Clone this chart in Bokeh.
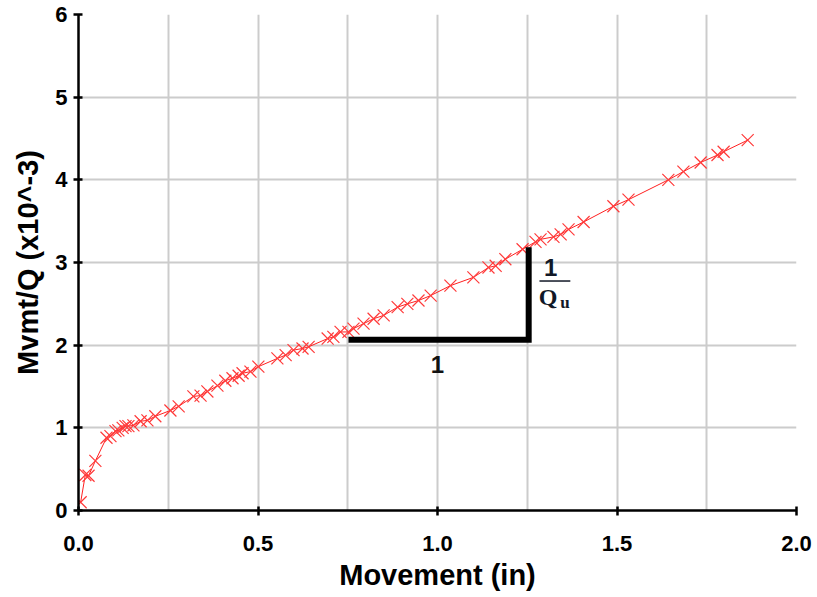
from bokeh.plotting import figure
from bokeh.models import Range1d, FixedTicker, Label
from bokeh.embed import file_html
from bokeh.resources import INLINE

# Data (Movement in inches, Mvmt/Q x10^-3)
movement = [0.006, 0.019, 0.028, 0.047, 0.078, 0.089, 0.103, 0.111, 0.123, 0.131,
            0.139, 0.153, 0.173, 0.192, 0.214, 0.256, 0.279, 0.320, 0.340, 0.359,
            0.387, 0.409, 0.429, 0.446, 0.457, 0.479, 0.501, 0.554, 0.577, 0.599,
            0.624, 0.641, 0.694, 0.710, 0.730, 0.752, 0.766, 0.794, 0.822, 0.850,
            0.889, 0.916, 0.947, 0.981, 1.036, 1.100, 1.142, 1.162, 1.189, 1.237,
            1.273, 1.287, 1.323, 1.343, 1.365, 1.407, 1.490, 1.532, 1.643, 1.685,
            1.733, 1.780, 1.797, 1.864]
mvmt_q = [0.10, 0.43, 0.42, 0.60, 0.88, 0.90, 0.96, 0.97, 1.00, 1.02,
          1.02, 1.03, 1.08, 1.09, 1.14, 1.21, 1.26, 1.38, 1.39, 1.44,
          1.51, 1.57, 1.60, 1.63, 1.66, 1.68, 1.74, 1.84, 1.88, 1.94,
          1.96, 1.98, 2.08, 2.10, 2.16, 2.16, 2.20, 2.26, 2.32, 2.36,
          2.46, 2.50, 2.54, 2.60, 2.72, 2.82, 2.94, 2.96, 3.04, 3.16,
          3.25, 3.28, 3.31, 3.34, 3.40, 3.49, 3.68, 3.76, 4.00, 4.10,
          4.21, 4.30, 4.34, 4.48]

x_ticks = [0.0, 0.5, 1.0, 1.5, 2.0]
x_grid = [0.0, 0.25, 0.5, 0.75, 1.0, 1.25, 1.5, 1.75, 2.0]
y_ticks = [0, 1, 2, 3, 4, 5, 6]

# slope triangle annotation (data units)
tri_x0, tri_x1 = 0.752, 1.254
tri_y0, tri_y1 = 2.067, 3.185

p = figure(width=816, height=593, output_backend="svg", toolbar_location=None,
           x_range=Range1d(0, 2), y_range=Range1d(0, 6),
           min_border_left=78, min_border_right=20, min_border_top=14,
           min_border_bottom=80)
p.outline_line_color = None
p.background_fill_color = "white"
p.border_fill_color = "white"

p.xaxis.ticker = FixedTicker(ticks=x_ticks)
p.yaxis.ticker = FixedTicker(ticks=y_ticks)
p.xgrid.ticker = FixedTicker(ticks=x_grid)
p.ygrid.ticker = FixedTicker(ticks=y_ticks)
p.xaxis.major_label_overrides = {t: f"{t:.1f}" for t in x_ticks}
for g in (p.xgrid, p.ygrid):
    g.grid_line_color = "#cccccc"
    g.grid_line_width = 2

for ax in (p.xaxis, p.yaxis):
    ax.axis_line_width = 2.5
    ax.axis_line_color = "black"
    ax.major_tick_line_width = 2.5
    ax.major_tick_line_color = "black"
    ax.major_tick_in = 4
    ax.major_tick_out = 5
    ax.minor_tick_line_color = None
    ax.major_label_text_font = "Liberation Sans"
    ax.major_label_text_font_style = "bold"
    ax.major_label_text_font_size = "22px"
    ax.major_label_text_color = "black"
    ax.axis_label_text_font = "Liberation Sans"
    ax.axis_label_text_font_style = "bold"
    ax.axis_label_text_font_size = "29px"
    ax.axis_label_text_color = "black"

p.xaxis.axis_label = "Movement (in)"
p.yaxis.axis_label = "Mvmt/Q (x10^-3)"
p.xaxis.major_label_standoff = 20
p.xaxis.axis_label_standoff = 5
p.yaxis.major_label_standoff = 6
p.yaxis.axis_label_standoff = 8

p.line(movement, mvmt_q, line_color="#ff2020", line_width=1)
p.scatter(movement, mvmt_q, marker="x", size=17, line_color="#ff3a3a",
          line_width=1.2)

# slope triangle
p.line([tri_x0, tri_x1, tri_x1], [tri_y0, tri_y0, tri_y1], line_color="black",
       line_width=6, line_join="miter")

p.add_layout(Label(x=1.0, y=1.767, text="1", text_font="Liberation Sans",
                   text_font_style="bold", text_font_size="24px",
                   text_align="center", text_baseline="middle",
                   text_color="#111111"))
p.add_layout(Label(x=1.315, y=2.945, text="1", text_font="Liberation Sans",
                   text_font_style="bold", text_font_size="24px",
                   text_align="center", text_baseline="middle",
                   text_color="#111827"))
p.line([1.284, 1.370], [2.776, 2.776], line_color="#111827", line_width=1.5)
p.add_layout(Label(x=1.308, y=2.58, text="Q", text_font="Liberation Serif",
                   text_font_style="bold", text_font_size="24px",
                   text_align="center", text_baseline="middle",
                   text_color="#111827"))
p.add_layout(Label(x=1.355, y=2.52, text="u", text_font="Liberation Serif",
                   text_font_style="bold", text_font_size="17px",
                   text_align="center", text_baseline="middle",
                   text_color="#111827"))

open("out.html", "w").write(file_html(p, INLINE))
